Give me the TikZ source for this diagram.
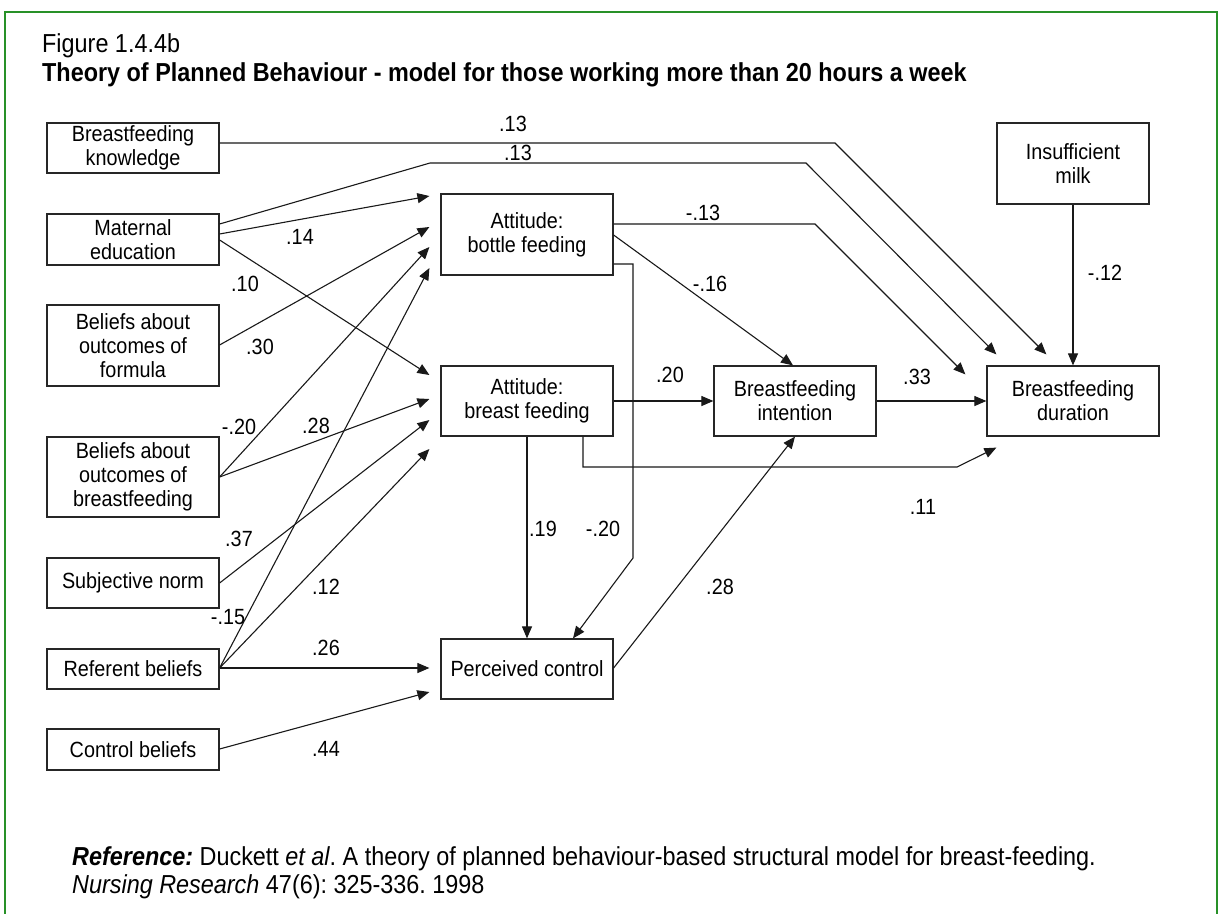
\documentclass[tikz,border=0pt]{standalone}
\usepackage{fontspec}
\setmainfont{Liberation Sans}[FakeStretch=0.9]
\usetikzlibrary{arrows.meta,calc}
\frenchspacing
\definecolor{framegreen}{RGB}{40,145,40}
\newcommand\lbl{\fontsize{22}{24}\selectfont}
\newcommand\cpt{\fontsize{26}{28}\selectfont}
\tikzset{
  box/.style={draw=black!85, line width=1.2pt, minimum width=172pt, inner sep=0pt,
              align=center, font=\lbl},
  conn/.style={line width=1.1pt, draw=black!90},
  arr/.style={conn, -{Triangle[length=12pt,width=10pt]}},
  coef/.style={font=\lbl, inner sep=0pt},
  caption/.style={anchor=base west, inner sep=0pt, font=\cpt},
}
\begin{document}
\begin{tikzpicture}[x=1pt,y=-1pt]
\useasboundingbox (0,0) rectangle (1218,913);
% outer frame
\draw[framegreen, line width=1.6pt] (5,12) rectangle (1217,940);

% headings
\node[caption] (fig) at (42,52) {Figure 1.4.4b};
\node[caption, font=\cpt\bfseries] (ttl) at (42,81)
  {Theory of Planned Behaviour - model for those working more than 20 hours a week};

% predictors
\node[box, minimum height=50pt] (kn) at (133,148)   {Breastfeeding\\knowledge};
\node[box, minimum height=51pt] (me) at (133,239.5) {Maternal\\education};
\node[box, minimum height=81pt] (bf) at (133,345.5) {Beliefs about\\outcomes of\\formula};
\node[box, minimum height=80pt] (bb) at (133,477)   {Beliefs about\\outcomes of\\breastfeeding};
\node[box, minimum height=50pt] (sn) at (133,583)   {Subjective norm};
\node[box, minimum height=40pt] (rb) at (133,669)   {Referent beliefs};
\node[box, minimum height=41pt] (cb) at (133,749.5) {Control beliefs};

% mediators and outcome
\node[box, minimum height=81pt] (ab) at (527,234.5) {Attitude:\\bottle feeding};
\node[box, minimum height=70pt] (ax) at (527,401)   {Attitude:\\breast feeding};
\node[box, minimum height=60pt] (pc) at (527,669)   {Perceived control};
\node[box, minimum width=162pt, minimum height=70pt] (bi) at (795,401) {Breastfeeding\\intention};
\node[box, minimum height=70pt] (bd) at (1073,401)  {Breastfeeding\\duration};
\node[box, minimum width=152pt, minimum height=81pt] (im) at (1073,163.5) {Insufficient\\milk};

% paths into the attitudes and perceived control
\draw[arr] (me.east |- 0,234) -- ($(ab.west|-0,196)+(-11,0)$);
\draw[arr] (me.east |- 0,240) -- ($(ax.west|-0,375)+(-11,0)$);
\draw[arr] (bf.east |- 0,345) -- ($(ab.west|-0,227)+(-11,0)$);
\draw[arr] (bb.east) -- ($(ab.west|-0,247)+(-11,0)$);
\draw[arr] (bb.east) -- ($(ax.west|-0,399)+(-11,0)$);
\draw[arr] (sn.east) -- ($(ax.west|-0,420)+(-11,0)$);
\draw[arr] (rb.east |- 0,668) -- ($(ab.west|-0,268)+(-11,0)$);
\draw[arr] (rb.east |- 0,668) -- ($(ax.west|-0,449)+(-11,0)$);
\draw[arr] (rb.east |- 0,668) -- ($(pc.west|-0,668)+(-11,0)$);
\draw[arr] (cb.east |- 0,749) -- ($(pc.west|-0,692)+(-11,0)$);

% paths into duration
\draw[arr] (kn.east |- 0,143) -- (835,143) -- ($(bd.north west)+(60,-11)$);
\draw[arr] (me.east |- 0,224) -- (430,163) -- (806,163) -- ($(bd.north west)+(10,-11)$);
\draw[arr] (ab.east |- 0,224) -- (815,224) -- ($(bd.north west)+(-21,9)$);
\draw[arr] (ax.south -| 583,0) -- (583,467) -- (957,467) -- ($(bd.south west)+(10,11)$);
\draw[arr] (bi.east) -- (bd.west);
\draw[arr] (im.south) -- (bd.north);

% paths among the mediators
\draw[arr] (ab.east |- 0,235) -- (bi.north -| 793,0);
\draw[arr] (ab.east |- 0,264) -- (633,264) -- (633,558) -- (pc.north -| 573,0);
\draw[arr] (ax.east) -- (bi.west);
\draw[arr] (ax.south) -- (pc.north);
\draw[arr] (pc.east |- 0,668) -- (bi.south);

% path coefficients
\node[coef] (c1)  at (513,124) {.13};
\node[coef] (c2)  at (518,153) {.13};
\node[coef] (c3)  at (300,237) {.14};
\node[coef] (c4)  at (245,284) {.10};
\node[coef] (c5)  at (260,347) {.30};
\node[coef] (c6)  at (239,427) {-.20};
\node[coef] (c7)  at (316,426) {.28};
\node[coef] (c8)  at (239,539) {.37};
\node[coef] (c9)  at (228,617) {-.15};
\node[coef] (c10) at (326,587) {.12};
\node[coef] (c11) at (326,648) {.26};
\node[coef] (c12) at (326,749) {.44};
\node[coef] (c13) at (703,213) {-.13};
\node[coef] (c14) at (710,284) {-.16};
\node[coef] (c15) at (670,375) {.20};
\node[coef] (c16) at (543,529) {.19};
\node[coef] (c17) at (603,529) {-.20};
\node[coef] (c18) at (720,587) {.28};
\node[coef] (c19) at (917,377) {.33};
\node[coef] (c20) at (923,507) {.11};
\node[coef] (c21) at (1105,273) {-.12};

% source
\node[caption] (src1) at (72,865)
  {\textbf{\textit{Reference:}} Duckett \textit{et al}. A theory of planned behaviour-based structural model for breast-feeding.};
\node[caption] (src2) at (72,893) {\textit{Nursing Research} 47(6): 325-336. 1998};
\end{tikzpicture}
\end{document}
